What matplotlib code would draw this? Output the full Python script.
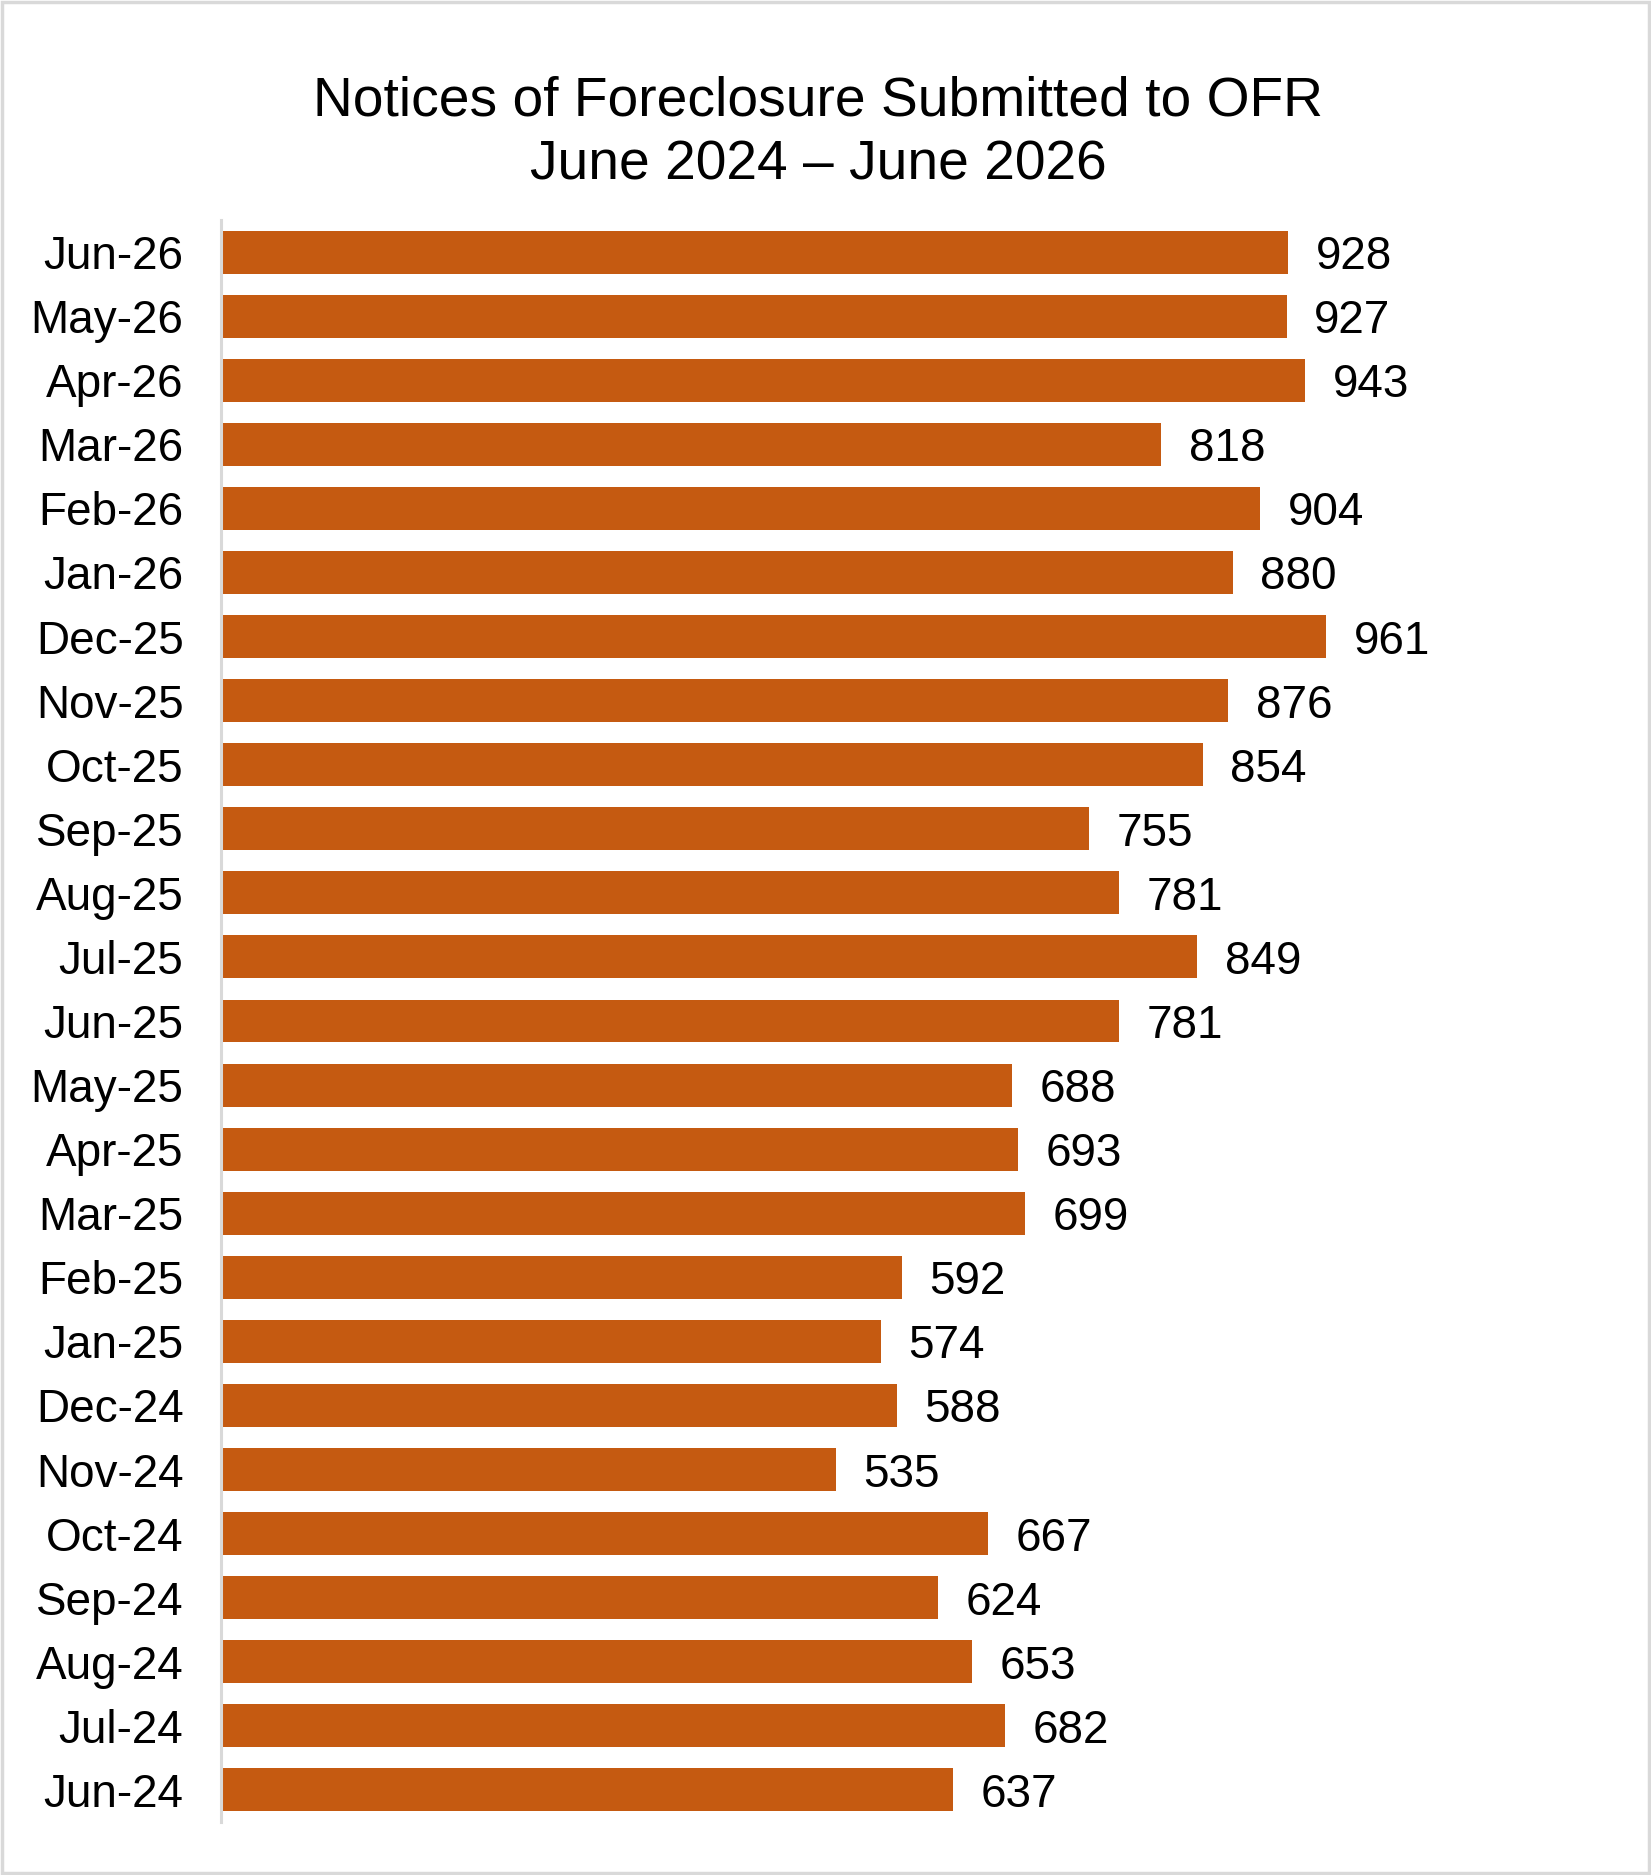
import matplotlib
matplotlib.use("Agg")
import matplotlib.pyplot as plt
from matplotlib.patches import Rectangle

# monthly notices, oldest first (drawn bottom to top)
months = ["Jun-24", "Jul-24", "Aug-24", "Sep-24", "Oct-24", "Nov-24", "Dec-24",
          "Jan-25", "Feb-25", "Mar-25", "Apr-25", "May-25", "Jun-25", "Jul-25",
          "Aug-25", "Sep-25", "Oct-25", "Nov-25", "Dec-25", "Jan-26", "Feb-26",
          "Mar-26", "Apr-26", "May-26", "Jun-26"]
notices = [637, 682, 653, 624, 667, 535, 588, 574, 592, 699, 693, 688, 781,
           849, 781, 755, 854, 876, 961, 880, 904, 818, 943, 927, 928]

plt.rcParams["font.family"] = ["Liberation Sans", "DejaVu Sans"]

fig = plt.figure(figsize=(16.51, 18.75), dpi=100)
ax = fig.add_axes([221 / 1651, 53 / 1875, 1375 / 1651, 1602 / 1875])

pos = list(range(len(months)))
ax.barh(pos, notices, height=0.67, color="#C55A11")
for y, v in zip(pos, notices):
    ax.text(v + 24, y, str(v), va="center_baseline", ha="left", fontsize=33)

ax.set_xlim(0, 1196)
ax.set_ylim(-0.5, len(months) - 0.5)
ax.set_yticks(pos)
ax.set_yticklabels(months, fontsize=33)
ax.tick_params(axis="y", length=0, pad=27)
ax.set_xticks([])
for s in ["top", "right", "bottom"]:
    ax.spines[s].set_visible(False)
ax.spines["left"].set_color("#D9D9D9")
ax.spines["left"].set_linewidth(2.2)

fig.text(0.4955, 1 - 102 / 1875, "Notices of Foreclosure Submitted to OFR",
         ha="center", va="center", fontsize=39.7)
fig.text(0.4955, 1 - 165 / 1875, "June 2024 \u2013 June 2026",
         ha="center", va="center", fontsize=39.7)

# light grey frame round the chart
fig.patches.append(Rectangle((0.001, 0.001), 0.998, 0.998, transform=fig.transFigure,
                             fill=False, edgecolor="#D9D9D9", linewidth=2.5))

fig.savefig("out.png", dpi=100)
